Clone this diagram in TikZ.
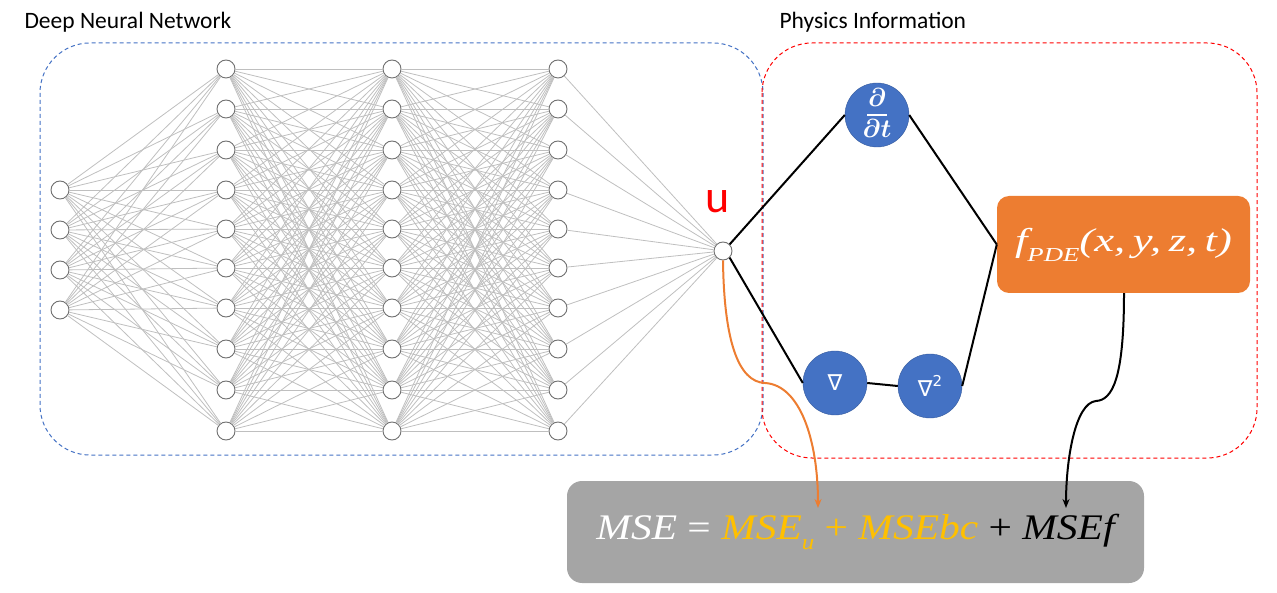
\documentclass[tikz,border=0pt]{standalone}
\usepackage{fontspec}
\setmainfont{Carlito}
\newfontfamily\mathlike{Liberation Serif}
\newfontfamily\symfont{DejaVu Sans}
\usetikzlibrary{arrows.meta}
\definecolor{nblue}{HTML}{4472C4}
\definecolor{norange}{HTML}{ED7D31}
\definecolor{ngray}{HTML}{A5A5A5}
\definecolor{nyellow}{HTML}{FFC000}
\definecolor{nline}{HTML}{BFBFBF}
\definecolor{ncirc}{HTML}{707070}
\newcommand{\isub}[1]{\raisebox{-0.3em}{\fontsize{0.6em}{1em}\selectfont #1}}
\newcommand{\opsp}{\hspace{0.25em}}
\begin{document}
\begin{tikzpicture}[x=1pt,y=-1pt,
  neuron/.style={circle,draw=ncirc,fill=white,line width=0.9pt,minimum size=18pt,inner sep=0pt},
  conn/.style={draw=nline,line width=0.8pt},
  opnode/.style={circle,draw=nblue!80!black,fill=nblue,minimum size=64pt,inner sep=0pt,text=white},
  link/.style={draw=black,line width=2pt},
  region/.style={rounded corners=50pt,line width=1pt,dash pattern=on 4pt off 3pt},
  title/.style={font=\fontsize{23.5}{26}\selectfont,anchor=west}]
\useasboundingbox (0,0) rectangle (1277,593);
% regions
\draw[region,draw=nblue] (40,43) rectangle (763,455);
\draw[region,draw=red] (762,43) rectangle (1257,458);
\node[title] (t1) at (21,22) {Deep Neural Network};
\node[title] (t2) at (776,22) {Physics Information};
% network
\foreach \k/\y in {1/190,2/230,3/270,4/310} \node[neuron] (a\k) at (60,\y) {};
\foreach \k/\y in {1/69,2/109,3/150,4/190,5/229,6/268,7/308,8/349,9/390,10/431} {
  \node[neuron] (b\k) at (226,\y) {};
  \node[neuron] (c\k) at (392,\y) {};
  \node[neuron] (d\k) at (558,\y) {};
}
\node[neuron] (u) at (723,251) {};
\foreach \i in {1,...,4} \foreach \j in {1,...,10} \draw[conn] (a\i) -- (b\j);
\foreach \i in {1,...,10} \foreach \j in {1,...,10} {\draw[conn] (b\i) -- (c\j); \draw[conn] (c\i) -- (d\j);}
\foreach \i in {1,...,10} \draw[conn] (d\i) -- (u);
\node[text=red,font=\fontsize{46}{48}\selectfont] (ulab) at (718,202) {u};
% physics
\node[opnode,font=\boldmath] (dt) at (877,115) {\raisebox{-2pt}{\begin{tabular}{@{}c@{}}\scalebox{2.6}{$\partial$}\\[-3pt]\rule{20pt}{2pt}\\[0pt]\scalebox{2.6}{$\partial t$}\end{tabular}}};
\node[opnode,font=\symfont\fontsize{22}{24}\selectfont] (nab) at (835,383) {∇};
\node[opnode,font=\symfont\fontsize{22}{24}\selectfont] (nab2) at (930,386) {∇\raisebox{0.45em}{\fontsize{15}{16}\selectfont 2}};
\node[fill=norange,rounded corners=12pt,minimum width=253pt,minimum height=97pt,inner sep=0pt,text=white] (f) at (1123.5,244.5) {\raisebox{-3pt}{\resizebox{217pt}{\height}{\mathlike\itshape\fontsize{33}{36}\selectfont f\isub{PDE}(x,\,y,\,z,\,t)}}};
\draw[link] (u.north east) -- (dt.west);
\draw[link] (dt.east) -- (f.west);
\draw[link] (u.south east) -- (nab.west);
\draw[link] (nab.east) -- (nab2.west);
\draw[link] (nab2.east) -- (f.west);
% MSE
\node[fill=ngray,rounded corners=15pt,minimum width=577pt,minimum height=102pt,inner sep=0pt] (mse) at (855.5,532) {\raisebox{-2pt}{\resizebox{518pt}{\height}{\mathlike\itshape\fontsize{36}{40}\selectfont\textcolor{white}{MSE\opsp{\upshape=}\opsp}\textcolor{nyellow}{MSE\isub{u}\opsp{\upshape+}\opsp MSEbc}\opsp{\upshape+}\opsp MSEf}}};
\coordinate (mu) at (818,508);
\coordinate (mf) at (1066,508);
\draw[norange,line width=2pt,-{Stealth[length=9pt,width=7pt]}] (u.south) .. controls (724,340) and (738,382) .. (765,383) .. controls (800,385) and (818,440) .. (mu);
\draw[black,line width=2pt,-{Stealth[length=9pt,width=7pt]}] (f.south -| 1124,0) .. controls (1124,380) and (1112,400) .. (1096,401) .. controls (1075,403) and (1066,460) .. (mf);
\end{tikzpicture}
\end{document}
